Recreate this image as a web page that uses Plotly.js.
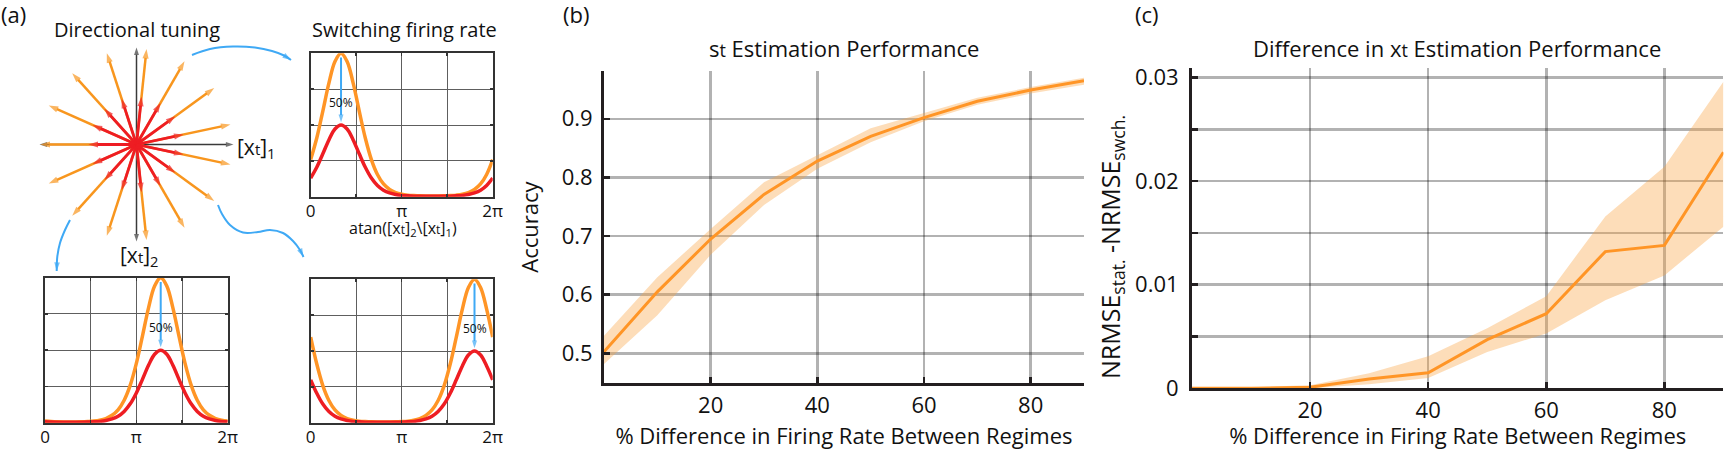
<!DOCTYPE html>
<html><head><meta charset="utf-8">
<script src="https://cdn.plot.ly/plotly-3.0.1.min.js"></script>
<style>html,body{margin:0;padding:0;background:#fff}#chart{width:1725px;height:450px}</style>
</head><body><div id="chart"></div>
<script>
// ================= DATA =================
// (b) s_t estimation accuracy vs % difference in firing rate
const pctDiff   = [0, 10, 20, 30, 40, 50, 60, 70, 80, 90];
const accMean   = [0.503, 0.605, 0.695, 0.771, 0.828, 0.870, 0.902, 0.930, 0.949, 0.965];
const accLow    = [0.482, 0.565, 0.668, 0.753, 0.815, 0.860, 0.896, 0.924, 0.943, 0.958];
const accHigh   = [0.530, 0.630, 0.712, 0.792, 0.838, 0.884, 0.910, 0.936, 0.954, 0.970];
// (c) NRMSE(stat.) - NRMSE(swch.)
const nrmseMean = [0, 0, 0.0001, 0.0009, 0.0015, 0.0047, 0.0072, 0.0132, 0.0138, 0.0228];
const nrmseLow  = [0, 0, 0, 0.0004, 0.0010, 0.0035, 0.0053, 0.0085, 0.0109, 0.0156];
const nrmseHigh = [0.0001, 0.0001, 0.0003, 0.00145, 0.0031, 0.0058, 0.0089, 0.0166, 0.0214, 0.0296];
// (a) directional tuning: preferred directions (deg) and the two firing-rate regimes
const prefDirDeg = [12, 36, 60, 84, 108, 132, 156, 180, 204, 228, 252, 276, 300, 324, 348];
const rateRegimes = [1.0, 0.5];           // high regime, low regime (50%)
const thetaDeg = [0,12,24,36,48,60,72,84,96,108,120,132,144,156,168,180,192,204,216,228,240,252,264,276,288,300,312,324,336,348,360];
// tuning curves: top-right (pref 60 deg), bottom-left (pref 228 deg), bottom-right (pref 324 deg)
const tuneTRHigh = [0.259,0.409,0.597,0.792,0.943,1.000,0.943,0.792,0.597,0.409,0.259,0.155,0.089,0.051,0.029,0.017,0.011,0.008,0.006,0.005,0.005,0.005,0.006,0.008,0.011,0.017,0.029,0.051,0.089,0.155,0.259];
const tuneTRLow  = [0.130,0.205,0.299,0.396,0.472,0.500,0.472,0.396,0.299,0.205,0.130,0.078,0.045,0.026,0.015,0.009,0.006,0.004,0.003,0.003,0.003,0.003,0.003,0.004,0.006,0.009,0.015,0.026,0.045,0.078,0.130];
const tuneBLHigh = [0.011,0.008,0.006,0.005,0.005,0.005,0.006,0.008,0.011,0.017,0.029,0.051,0.089,0.155,0.259,0.409,0.597,0.792,0.943,1.000,0.943,0.792,0.597,0.409,0.259,0.155,0.089,0.051,0.029,0.017,0.011];
const tuneBLLow  = [0.006,0.004,0.003,0.003,0.003,0.003,0.003,0.004,0.006,0.009,0.015,0.026,0.045,0.078,0.130,0.205,0.299,0.396,0.472,0.500,0.472,0.396,0.299,0.205,0.130,0.078,0.045,0.026,0.015,0.009,0.006];
const tuneBRHigh = [0.597,0.409,0.259,0.155,0.089,0.051,0.029,0.017,0.011,0.008,0.006,0.005,0.005,0.005,0.006,0.008,0.011,0.017,0.029,0.051,0.089,0.155,0.259,0.409,0.597,0.792,0.943,1.000,0.943,0.792,0.597];
const tuneBRLow  = [0.299,0.205,0.130,0.078,0.045,0.026,0.015,0.009,0.006,0.004,0.003,0.003,0.003,0.003,0.003,0.004,0.006,0.009,0.015,0.026,0.045,0.078,0.130,0.205,0.299,0.396,0.472,0.500,0.472,0.396,0.299];
const tunePeakDeg = [60, 228, 324];
const angleTickVals = [0, 180, 360];
const angleTickText = ['0', 'π', '2π'];
const angleMinorVals = [90, 270];
const accTickVals = [0.5, 0.6, 0.7, 0.8, 0.9];
const accTickText = ['0.5', '0.6', '0.7', '0.8', '0.9'];
const nrmseTickVals = [0, 0.01, 0.02, 0.03];
const nrmseTickText = ['0', '0.01', '0.02', '0.03'];
const nrmseMinorVals = [0.005, 0.015, 0.025];
const pctTickVals = [20, 40, 60, 80];

// ================= STYLE / LAYOUT HELPERS =================
const FONT = '"Open Sans", "Noto Sans", sans-serif';
const INK = '#231f20';
const ORANGE = '#FF9526';
const ORANGE_ARROW = '#F8961E';
const RED = '#EE1D23';
const BLUE = '#3FA9F5';
const BAND = 'rgba(250,160,60,0.36)';
const GRID = 'rgba(0,0,0,0.3)';
const W = 1725, H = 450;
const domX = (a, b) => [a / W, b / W];
const domY = (top, bottom) => [1 - bottom / H, 1 - top / H];
const PX = v => v / W, PY = v => 1 - v / H;

const traces = [];
const skip = {hoverinfo: 'skip', showlegend: false};

// ---- (b) ----
traces.push(Object.assign({type:'scatter', mode:'lines', x:pctDiff, y:accLow, xaxis:'x', yaxis:'y', line:{width:0, color:BAND}}, skip));
traces.push(Object.assign({type:'scatter', mode:'lines', x:pctDiff, y:accHigh, xaxis:'x', yaxis:'y', line:{width:0, color:BAND}, fill:'tonexty', fillcolor:BAND}, skip));
traces.push(Object.assign({type:'scatter', mode:'lines', x:pctDiff, y:accMean, xaxis:'x', yaxis:'y', line:{width:3, color:ORANGE}}, skip));
// ---- (c) ----
traces.push(Object.assign({type:'scatter', mode:'lines', x:pctDiff, y:nrmseLow, xaxis:'x2', yaxis:'y2', line:{width:0, color:BAND}}, skip));
traces.push(Object.assign({type:'scatter', mode:'lines', x:pctDiff, y:nrmseHigh, xaxis:'x2', yaxis:'y2', line:{width:0, color:BAND}, fill:'tonexty', fillcolor:BAND}, skip));
traces.push(Object.assign({type:'scatter', mode:'lines', x:pctDiff, y:nrmseMean, xaxis:'x2', yaxis:'y2', line:{width:3, color:ORANGE}}, skip));

// ---- (a) small tuning plots ----
const small = [
  {ax:'3', hi:tuneTRHigh, lo:tuneTRLow, peak:tunePeakDeg[0]},
  {ax:'4', hi:tuneBLHigh, lo:tuneBLLow, peak:tunePeakDeg[1]},
  {ax:'5', hi:tuneBRHigh, lo:tuneBRLow, peak:tunePeakDeg[2]},
];
small.forEach(s => {
  traces.push(Object.assign({type:'scatter', mode:'lines', x:thetaDeg, y:s.hi, xaxis:'x'+s.ax, yaxis:'y'+s.ax, line:{width:3.5, color:ORANGE, shape:'spline'}}, skip));
  traces.push(Object.assign({type:'scatter', mode:'lines', x:thetaDeg, y:s.lo, xaxis:'x'+s.ax, yaxis:'y'+s.ax, line:{width:3.5, color:RED, shape:'spline'}}, skip));
  traces.push(Object.assign({type:'scatter', mode:'lines+markers', x:[s.peak, s.peak], y:[rateRegimes[0]-0.03, rateRegimes[1]+0.02], xaxis:'x'+s.ax, yaxis:'y'+s.ax,
    line:{width:2, color:BLUE}, marker:{symbol:'arrow', angleref:'previous', size:[0, 8], color:BLUE, line:{width:0}}, cliponaxis:false}, skip));
});

// ---- (a) directional tuning star ----
[0, 90, 180, 270].forEach(a => {
  const r = a * Math.PI / 180;
  traces.push(Object.assign({type:'scatter', mode:'lines+markers', x:[0, 1.01*Math.cos(r)], y:[0, 1.01*Math.sin(r)], xaxis:'x6', yaxis:'y6',
    line:{width:1.5, color:'#3a3a3a'}, marker:{symbol:'arrow', angleref:'previous', size:[0, 8], color:'#3a3a3a', line:{width:0}}, cliponaxis:false}, skip));
});
[[rateRegimes[0], ORANGE_ARROW, 2.5], [rateRegimes[1], RED, 2.8]].forEach(([rate, col, w]) => {
  prefDirDeg.forEach(a => {
    const r = a * Math.PI / 180;
    traces.push(Object.assign({type:'scatter', mode:'lines+markers', x:[0, rate*Math.cos(r)], y:[0, rate*Math.sin(r)], xaxis:'x6', yaxis:'y6',
      line:{width:w, color:col}, marker:{symbol:'arrow', angleref:'previous', size:[0, 10], color:col, line:{width:0}}, cliponaxis:false}, skip));
  });
});

// ---- decorative blue connector arrows (pixel overlay) ----
const connectors = [
  [[192,55],[210,49],[233,46.5],[255,47.5],[272,51],[284,55.5],[291,60]],
  [[218,205],[222,214],[230,225],[243,232.5],[258,232],[270,230],[283,233],[293,241],[300,250],[303.5,257]],
  [[70,220],[65,230],[60,243],[57.3,256.7],[56.7,271]],
];
connectors.forEach(c => {
  traces.push(Object.assign({type:'scatter', mode:'lines+markers', x:c.map(p=>p[0]), y:c.map(p=>p[1]), xaxis:'x7', yaxis:'y7',
    line:{width:2, color:BLUE, shape:'spline'}, marker:{symbol:'arrow', angleref:'previous', size:c.map((p,i)=> i===c.length-1 ? 9 : 0), color:BLUE, line:{width:0}}, cliponaxis:false}, skip));
});

// ================= AXES =================
const bigAxisCommon = {
  showline:true, linewidth:3, linecolor:INK, mirror:false,
  ticks:'inside', ticklen:6, tickwidth:2.5, tickcolor:INK,
  showgrid:true, gridcolor:GRID, gridwidth:2.5, zeroline:false,
  tickfont:{family:FONT, size:22, color:'#111'}, fixedrange:true,
};
const smallX = d => ({domain:d, range:[0,360], tickvals:angleTickVals, ticktext:angleTickText, showline:true, mirror:'ticks', linewidth:2, linecolor:'#333',
  ticks:'inside', ticklen:3, tickcolor:'#333', tickwidth:1.5, showgrid:true, gridcolor:'#5e5e5e', gridwidth:1, zeroline:false,
  minor:{tickvals:angleMinorVals, ticks:'inside', ticklen:3, tickcolor:'#333', tickwidth:1.5, showgrid:true, gridcolor:'#5e5e5e', gridwidth:1},
  tickfont:{family:FONT, size:17, color:'#111'}, ticklabelstandoff:-2, fixedrange:true});
const smallY = d => ({domain:d, range:[0,1], tickvals:[0,0.25,0.5,0.75,1], showticklabels:false, showline:true, mirror:'ticks', linewidth:2, linecolor:'#333',
  ticks:'inside', ticklen:3, tickcolor:'#333', tickwidth:1.5, showgrid:true, gridcolor:'#5e5e5e', gridwidth:1, zeroline:false, fixedrange:true});

const layout = {
  width:W, height:H, margin:{l:0, r:0, t:0, b:0}, paper_bgcolor:'#fff', plot_bgcolor:'rgba(0,0,0,0)',
  showlegend:false, font:{family:FONT, color:'#111'},
  xaxis: Object.assign({}, bigAxisCommon, {domain:domX(604,1084), range:[0,90], tickvals:pctTickVals, anchor:'y', ticklabelstandoff:0,
    title:{text:'% Difference in Firing Rate Between Regimes', font:{family:FONT, size:22, color:'#111'}, standoff:12}}),
  yaxis: Object.assign({}, bigAxisCommon, {domain:domY(70.7,383.3), range:[0.449,0.982], tickvals:accTickVals, ticktext:accTickText, anchor:'x', ticklabelstandoff:4,
    title:{text:'Accuracy', font:{family:FONT, size:22, color:'#111'}, standoff:17}}),
  xaxis2: Object.assign({}, bigAxisCommon, {domain:domX(1192,1723.4), range:[0,90], tickvals:pctTickVals, anchor:'y2', ticklabelstandoff:0,
    title:{text:'% Difference in Firing Rate Between Regimes', font:{family:FONT, size:22, color:'#111'}, standoff:12}}),
  yaxis2: Object.assign({}, bigAxisCommon, {domain:domY(68.3,388.3), range:[0,0.0309], tickvals:nrmseTickVals, ticktext:nrmseTickText, anchor:'x2', ticklabelstandoff:6,
    minor:{tickvals:nrmseMinorVals, ticks:'inside', ticklen:6, tickwidth:2.5, tickcolor:INK, showgrid:true, gridcolor:GRID, gridwidth:2.5}}),
  xaxis3: Object.assign(smallX(domX(310.7,492.7)), {anchor:'y3'}),
  yaxis3: Object.assign(smallY(domY(53.3,196.7)), {anchor:'x3'}),
  xaxis4: Object.assign(smallX(domX(45,227.7)), {anchor:'y4'}),
  yaxis4: Object.assign(smallY(domY(277.7,422.7)), {anchor:'x4'}),
  xaxis5: Object.assign(smallX(domX(310.7,492.7)), {anchor:'y5'}),
  yaxis5: Object.assign(smallY(domY(279.3,422.7)), {anchor:'x5'}),
  xaxis6: {domain:domX(30,243), range:[-1.109,1.109], visible:false, anchor:'y6', fixedrange:true},
  yaxis6: {domain:domY(38,251), range:[-1.109,1.109], visible:false, anchor:'x6', fixedrange:true},
  xaxis7: {domain:[0,1], range:[0,W], visible:false, anchor:'y7', fixedrange:true},
  yaxis7: {domain:[0,1], range:[H,0], visible:false, anchor:'x7', fixedrange:true},
  annotations: [],
};

const ann = (text, x, y, size, xanchor, extra) => Object.assign({text, x:PX(x), y:PY(y), xref:'paper', yref:'paper', showarrow:false,
  xanchor:xanchor||'center', yanchor:'middle', font:{family:FONT, size, color:'#111'}}, extra||{});
layout.annotations.push(ann('(a)', -1, 14, 22, 'left'));
layout.annotations.push(ann('(b)', 561, 14, 22, 'left'));
layout.annotations.push(ann('(c)', 1133, 14, 22, 'left'));
layout.annotations.push(ann('Directional tuning', 137, 30, 20));
layout.annotations.push(ann('Switching firing rate', 404, 30, 20));
layout.annotations.push(ann('[x<span style="font-size:15px">t</span>]<sub>1</sub>', 235, 148, 21, 'left'));
layout.annotations.push(ann('[x<span style="font-size:15px">t</span>]<sub>2</sub>', 139, 256, 21));
layout.annotations.push(ann('atan([x<span style="font-size:12px">t</span>]<sub>2</sub>\\[x<span style="font-size:12px">t</span>]<sub>1</sub>)', 403, 229, 16));
layout.annotations.push(ann('s<span style="font-size:18px">t</span> Estimation Performance', 844, 48, 22));
layout.annotations.push(ann('Difference in x<span style="font-size:18px">t</span> Estimation Performance', 1457, 48, 22));
layout.annotations.push(ann('NRMSE<sub>stat.</sub> -NRMSE<sub>swch.</sub>', 1111, 247, 25, 'center', {textangle:-90}));
small.forEach(s => {
  layout.annotations.push({text:'50%', x:s.peak, y:0.66, xref:'x'+s.ax, yref:'y'+s.ax, showarrow:false, xanchor:'center', yanchor:'middle',
    font:{family:FONT, size:12, color:'#111'}});
});

Plotly.newPlot('chart', traces, layout, {staticPlot:true, displayModeBar:false});
</script>
</body></html>
